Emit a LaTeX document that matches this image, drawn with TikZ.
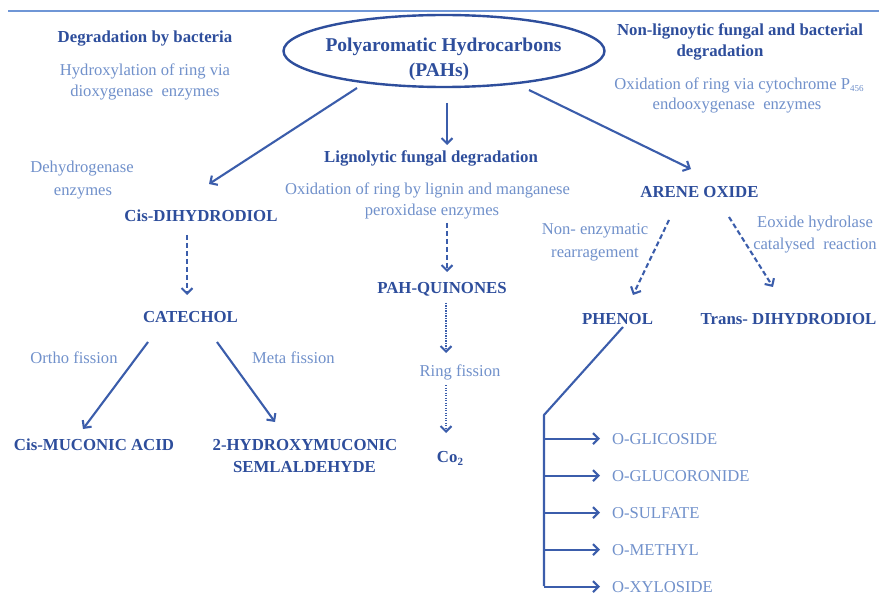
\documentclass[tikz,border=0pt]{standalone}
\usepackage{fontspec}
\setmainfont{Liberation Serif}
\usetikzlibrary{arrows.meta,shapes.geometric,calc}
\definecolor{dk}{HTML}{2E4E9C}
\definecolor{lt}{HTML}{7191CB}
\definecolor{ar}{HTML}{3B5DAB}
\definecolor{rulec}{HTML}{6F96D6}
\begin{document}
\begin{tikzpicture}[x=1pt,y=-1pt,
  bt/.style={font=\fontsize{16.8}{20}\selectfont\bfseries, text=dk, inner sep=0pt, anchor=base},
  ltx/.style={font=\fontsize{16.6}{20}\selectfont, text=lt, inner sep=0pt, anchor=base},
  lw/.style={ltx, anchor=base west},
  arr/.style={draw=ar, line width=2.1pt, -{Straight Barb[length=5.5pt,width=11pt]}},
  plain/.style={draw=ar, line width=2.1pt},
  dsh/.style={arr, dash pattern=on 5pt off 3pt},
  dtt/.style={arr, dash pattern=on 1.3pt off 1.2pt}]
\useasboundingbox (0,0) rectangle (879,596);
\fill[white] (0,0) rectangle (879,596);
% top rule
\coordinate (rl) at (8,11);
\coordinate (rr) at (879,11);
\draw[rulec, line width=1.2pt] (rl) -- (rr);

% root
\node[ellipse, draw=dk, line width=2.4pt, minimum width=321pt, minimum height=72pt, inner sep=0pt] (pah) at (444,51) {};
\node[bt, font=\fontsize{19.5}{24}\selectfont\bfseries] (pah1) at (443.5,52) {Polyaromatic Hydrocarbons};
\node[bt, font=\fontsize{19.5}{24}\selectfont\bfseries] (pah2) at (439,77) {(PAHs)};

% left header
\node[bt] (bact) at (145,43) {Degradation by bacteria};
\node[ltx] (bact1) at (145,76) {Hydroxylation of ring via};
\node[ltx] (bact2) at (145,97) {dioxygenase\ \ enzymes};

% right header
\node[bt] (nonl1) at (740,36) {Non-lignoytic fungal and bacterial};
\node[bt] (nonl2) at (720,57) {degradation};
\node[ltx] (nonl3) at (739,90) {Oxidation of ring via cytochrome P\raisebox{-2pt}{\fontsize{9}{9}\selectfont 456}};
\node[ltx] (nonl4) at (737,110) {endooxygenase\ \ enzymes};

% middle header
\node[bt] (lig) at (431,163) {Lignolytic fungal degradation};
\node[ltx] (lig1) at (427.5,195) {Oxidation of ring by lignin and manganese};
\node[ltx] (lig2) at (432,216) {peroxidase enzymes};

% left branch
\node[ltx] (deh1) at (82,173) {Dehydrogenase};
\node[ltx] (deh2) at (83,196) {enzymes};
\node[bt] (cisd) at (201,222) {Cis-DIHYDRODIOL};
\node[bt] (cat) at (190.5,323) {CATECHOL};
\node[ltx] (orth) at (74,363) {Ortho fission};
\node[ltx] (meta) at (293.5,363) {Meta fission};
\node[bt] (muc) at (94,450) {Cis-MUCONIC ACID};
\node[bt] (hyd1) at (305,450) {2-HYDROXYMUCONIC};
\node[bt] (hyd2) at (304.5,472) {SEMLALDEHYDE};

% middle branch
\node[bt] (quin) at (442,294) {PAH-QUINONES};
\node[ltx] (ring) at (460,377) {Ring fission};
\node[bt] (co2) at (450,462) {Co\raisebox{-3.5pt}{\fontsize{11}{11}\selectfont\bfseries 2}};

% right branch
\node[bt] (arene) at (699.5,198) {ARENE OXIDE};
\node[ltx] (ne1) at (595,235) {Non- enzymatic};
\node[ltx] (ne2) at (595,258) {rearragement};
\node[ltx] (eo1) at (815,228) {Eoxide hydrolase};
\node[ltx] (eo2) at (815,250) {catalysed\ \ reaction};
\node[bt] (phen) at (617.5,325) {PHENOL};
\node[bt] (trans) at (788.5,325) {Trans- DIHYDRODIOL};

\node[lw] (o1) at (612,444) {O-GLICOSIDE};
\node[lw] (o2) at (612,481) {O-GLUCORONIDE};
\node[lw] (o3) at (612,518) {O-SULFATE};
\node[lw] (o4) at (612,555) {O-METHYL};
\node[lw] (o5) at (612,592) {O-XYLOSIDE};

% connector end points
\coordinate (pahL) at (357,88);
\coordinate (cisdT) at (209,184);
\coordinate (pahR) at (529,90);
\coordinate (areneT) at (691,169);
\coordinate (pahM) at (447,103);
\coordinate (ligT) at (447,145);
\coordinate (cisdB) at (187,235);
\coordinate (catT) at (187,295);
\coordinate (catL) at (148,342);
\coordinate (mucT) at (83,429);
\coordinate (catR) at (217,342);
\coordinate (hydT) at (275,422);
\coordinate (lig2B) at (447,223);
\coordinate (quinT) at (447,272);
\coordinate (quinB) at (446,303);
\coordinate (ringT) at (446,353);
\coordinate (ringB) at (446,385);
\coordinate (co2T) at (446,433);
\coordinate (areneL) at (669,220);
\coordinate (phenT) at (633,295);
\coordinate (areneR) at (729,217);
\coordinate (transT) at (773,287);
\coordinate (phenB) at (623,327);
\coordinate (knee) at (544,415);
\coordinate (kneeB) at (544,586);

\draw[arr] (pahL) -- (cisdT);
\draw[arr] (pahM) -- (ligT);
\draw[arr] (pahR) -- (areneT);
\draw[dsh] (cisdB) -- (catT);
\draw[arr] (catL) -- (mucT);
\draw[arr] (catR) -- (hydT);
\draw[dsh] (lig2B) -- (quinT);
\draw[dtt] (quinB) -- (ringT);
\draw[dtt] (ringB) -- (co2T);
\draw[dsh] (areneL) -- (phenT);
\draw[dsh] (areneR) -- (transT);
\draw[plain, line join=round] (phenB) -- (knee) -- (kneeB);
\foreach \o in {o1,o2,o3,o4,o5}{
  \draw[arr, shorten >=12pt] (knee |- \o.west) -- (\o.west);
}
\end{tikzpicture}
\end{document}
